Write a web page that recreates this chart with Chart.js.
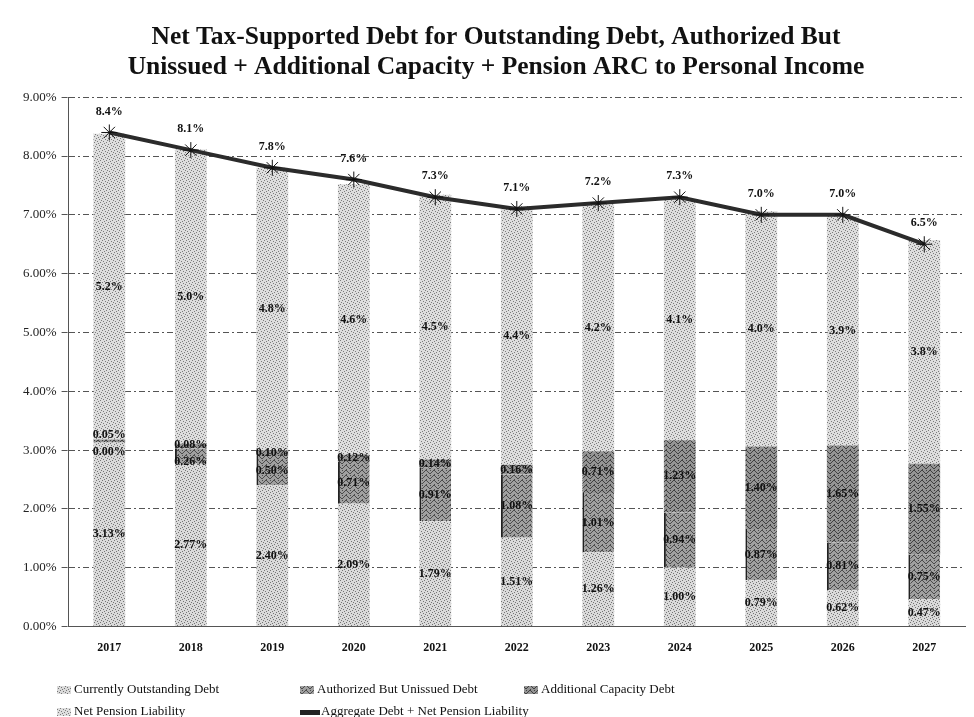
<!DOCTYPE html>
<html>
<head>
<meta charset="utf-8">
<script src="https://cdn.jsdelivr.net/npm/chart.js@4.4.1/dist/chart.umd.min.js"></script>
<style>
    html, body { margin: 0; padding: 0; background: #fff; }
    #wrap { width: 974px; height: 717px; position: relative; }
</style>
</head>
<body>
<div id="wrap"><canvas id="debtChart" width="974" height="717"></canvas></div>
<script>
// Fiscal years on the x axis
const years = ['2017', '2018', '2019', '2020', '2021', '2022', '2023', '2024', '2025', '2026', '2027'];

// Stacked components, % of personal income
const outstandingDebt = [3.13, 2.77, 2.40, 2.09, 1.79, 1.51, 1.26, 1.00, 0.79, 0.62, 0.47];
const authorizedUnissued = [0.00, 0.26, 0.50, 0.71, 0.91, 1.08, 1.01, 0.94, 0.87, 0.81, 0.75];
const additionalCapacity = [0.05, 0.08, 0.10, 0.12, 0.14, 0.16, 0.71, 1.23, 1.40, 1.65, 1.55];
const netPension = [5.2, 5.0, 4.8, 4.6, 4.5, 4.4, 4.2, 4.1, 4.0, 3.9, 3.8];

// Aggregate debt + net pension liability line
const aggregate = [8.4, 8.1, 7.8, 7.6, 7.3, 7.1, 7.2, 7.3, 7.0, 7.0, 6.5];

const yTicks = [0, 1, 2, 3, 4, 5, 6, 7, 8, 9];

const canvas = document.getElementById('debtChart');
const ctx = canvas.getContext('2d');

// stippled fill, like a printed halftone
function stipple(bg, fg, dots) {
    const c = document.createElement('canvas');
    c.width = 6; c.height = 6;
    const g = c.getContext('2d');
    g.fillStyle = bg;
    g.fillRect(0, 0, 6, 6);
    g.fillStyle = fg;
    dots.forEach(([x, y]) => g.fillRect(x, y, 1, 1));
    return ctx.createPattern(c, 'repeat');
}

// wavy horizontal texture for the darker segments
function wavy(bg, fg) {
    const c = document.createElement('canvas');
    c.width = 8; c.height = 5;
    const g = c.getContext('2d');
    g.fillStyle = bg;
    g.fillRect(0, 0, 8, 5);
    g.fillStyle = fg;
    [[0, 1], [1, 0], [2, 0], [3, 1], [4, 2], [5, 3], [6, 3], [7, 2], [2, 4], [6, 0]].forEach(([x, y]) => g.fillRect(x, y, 1, 1));
    return ctx.createPattern(c, 'repeat');
}

const lightDots = [[0, 0], [3, 1], [1, 3], [4, 4], [2, 5], [5, 2]];
const outstandingFill = stipple('#dadada', '#747474', lightDots);
const pensionFill = stipple('#dedede', '#7c7c7c', lightDots);
const authorizedFill = wavy('#a0a0a0', '#4c4c4c');
const additionalFill = wavy('#949494', '#404040');

const serif = "'Liberation Serif', 'Times New Roman', serif";

// value labels inside the bar segments and above the line
const valueLabels = {
    id: 'valueLabels',
    afterDatasetsDraw(chart) {
        const c = chart.ctx;
        c.save();
        c.font = 'bold 12px ' + serif;
        c.fillStyle = '#111';
        c.textAlign = 'center';
        c.textBaseline = 'middle';
        const metas = [0, 1, 2, 3].map(i => chart.getDatasetMeta(i));
        years.forEach((yr, j) => {
            const ys = metas.map(m => (m.data[j].y + m.data[j].base) / 2);
            // keep the two thin middle labels from sitting on top of each other
            const gap = ys[1] - ys[2];
            if (gap < 13) {
                const push = (13 - gap) / 2;
                ys[1] += push + 4;
                ys[2] -= push;
            }
            metas.forEach((m, i) => {
                const v = chart.data.datasets[i].data[j];
                const txt = (i === 3 ? v.toFixed(1) : v.toFixed(2)) + '%';
                c.fillText(txt, m.data[j].x, ys[i]);
            });
        });
        const lineMeta = chart.getDatasetMeta(4);
        lineMeta.data.forEach((pt, j) => {
            c.fillText(aggregate[j].toFixed(1) + '%', pt.x, pt.y - 21);
        });
        c.restore();
    }
};

// two-row legend under the axis
const bottomLegend = {
    id: 'bottomLegend',
    afterDraw(chart) {
        const c = chart.ctx;
        c.save();
        c.font = '13px ' + serif;
        c.textBaseline = 'middle';
        const items = [
            {text: 'Currently Outstanding Debt', fill: outstandingFill, x: 57, y: 690},
            {text: 'Authorized But Unissued Debt', fill: authorizedFill, x: 300, y: 690},
            {text: 'Additional Capacity Debt', fill: additionalFill, x: 524, y: 690},
            {text: 'Net Pension Liability', fill: pensionFill, x: 57, y: 712},
            {text: 'Aggregate Debt + Net Pension Liability', line: true, x: 300, y: 712}
        ];
        items.forEach(it => {
            if (it.line) {
                c.fillStyle = '#222';
                c.fillRect(it.x, it.y - 2, 20, 5);
                c.fillStyle = '#111';
                c.fillText(it.text, it.x + 21, it.y);
            } else {
                c.fillStyle = it.fill;
                c.fillRect(it.x, it.y - 4, 14, 8);
                c.fillStyle = '#111';
                c.fillText(it.text, it.x + 17, it.y);
            }
        });
        c.restore();
    }
};

new Chart(ctx, {
    type: 'bar',
    data: {
        labels: years,
        datasets: [
            {
                label: 'Currently Outstanding Debt',
                data: outstandingDebt,
                backgroundColor: outstandingFill,
                stack: 'debt',
                order: 2
            },
            {
                label: 'Authorized But Unissued Debt',
                data: authorizedUnissued,
                backgroundColor: authorizedFill,
                borderColor: '#222',
                borderWidth: {left: 2, right: 0, top: 0, bottom: 0},
                borderSkipped: false,
                stack: 'debt',
                order: 2
            },
            {
                label: 'Additional Capacity Debt',
                data: additionalCapacity,
                backgroundColor: additionalFill,
                stack: 'debt',
                order: 2
            },
            {
                label: 'Net Pension Liability',
                data: netPension,
                backgroundColor: pensionFill,
                stack: 'debt',
                order: 2
            },
            {
                type: 'line',
                label: 'Aggregate Debt + Net Pension Liability',
                data: aggregate,
                borderColor: '#2b2b2b',
                borderWidth: 4,
                pointStyle: 'star',
                pointRadius: 8,
                pointBorderColor: '#111',
                pointBorderWidth: 1,
                pointBackgroundColor: '#111',
                tension: 0,
                stack: 'aggregate',
                order: 1
            }
        ]
    },
    options: {
        responsive: false,
        animation: false,
        layout: {
            padding: {left: 18, right: 0, top: 0, bottom: 56}
        },
        datasets: {
            bar: {
                categoryPercentage: 1,
                barPercentage: 0.39
            }
        },
        plugins: {
            legend: {display: false},
            tooltip: {enabled: false},
            title: {
                display: true,
                text: ['Net Tax-Supported Debt for Outstanding Debt, Authorized But',
                       'Unissued + Additional Capacity + Pension ARC to Personal Income'],
                color: '#111',
                font: {family: serif, size: 25.5, weight: 'bold', lineHeight: 1.18},
                padding: {top: 22, bottom: 15}
            }
        },
        scales: {
            x: {
                stacked: true,
                grid: {display: false},
                border: {color: '#555', dash: [6, 3, 2, 3]},
                ticks: {
                    color: '#111',
                    font: {family: serif, size: 12, weight: 'bold'},
                    padding: 6
                }
            },
            y: {
                stacked: true,
                min: 0,
                max: 9,
                afterBuildTicks(axis) {
                    axis.ticks = yTicks.map(v => ({value: v}));
                },
                grid: {
                    color: '#555',
                    lineWidth: 1,
                    tickLength: 7,
                    tickBorderDash: [6, 3, 2, 3]
                },
                border: {color: '#555', dash: [6, 3, 2, 3]},
                ticks: {
                    color: '#222',
                    font: {family: serif, size: 13},
                    padding: 5,
                    callback: v => v.toFixed(2) + '%'
                }
            }
        }
    },
    plugins: [valueLabels, bottomLegend]
});
</script>
</body>
</html>
